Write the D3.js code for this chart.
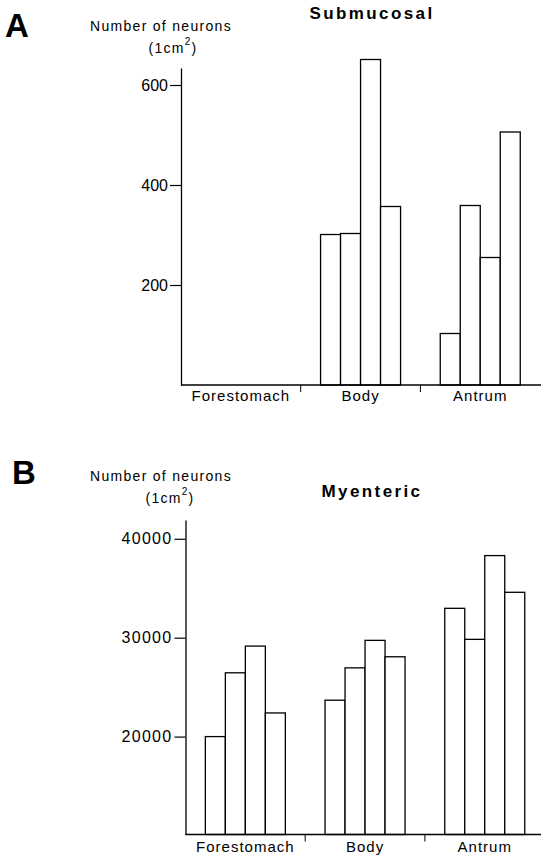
<!DOCTYPE html>
<html>
<head>
<meta charset="utf-8">
<script src="https://cdn.jsdelivr.net/npm/d3@7"></script>
<style>
    body { margin: 0; background: #fff; }
    svg { display: block; font-family: "Liberation Sans", Arial, sans-serif; }
    .lbl { font-size: 15px; letter-spacing: 1px; }
</style>
</head>
<body>
<script>
var categories = ['Forestomach', 'Body', 'Antrum'];

// four animals per region
var submucosal = [
    [0, 0, 0, 0],
    [301, 303, 651, 357],
    [103, 359, 255, 506]
];
var myenteric = [
    [20000, 26450, 29150, 22390],
    [23680, 26950, 29730, 28070],
    [32970, 29830, 38300, 34590]
];
var submucosalTicks = [200, 400, 600];
var myentericTicks = [20000, 30000, 40000];

var width = 541,
    height = 858;

var svg = d3.select('body').append('svg')
    .attr('width', width)
    .attr('height', height);

drawPanel = function drawPanel(opts) {
    var g = svg.append('g');

    var x = d3.scaleBand()
        .domain(categories)
        .range([opts.x0, opts.x0 + 3 * 119.7]);

    var x1 = d3.scaleBand()
        .domain([0, 1, 2, 3])
        .range([x.bandwidth() / 2 - 40, x.bandwidth() / 2 + 40]);

    var y = d3.scaleLinear()
        .domain(opts.domain)
        .range([opts.base, opts.top]);

    // letter + axis title
    g.append('text')
        .attr('x', opts.letterX)
        .attr('y', opts.letterY)
        .style('font-size', '33px')
        .style('font-weight', 'bold')
        .text(opts.letter);

    g.append('text')
        .attr('x', 90)
        .attr('y', opts.nY)
        .style('font-size', '14px')
        .style('letter-spacing', '1.3px')
        .text('Number of neurons');

    var unit = g.append('text')
        .attr('x', opts.unitX)
        .attr('y', opts.nY + 22)
        .attr('text-anchor', 'middle')
        .style('font-size', '14px')
        .style('letter-spacing', '1.3px');
    unit.append('tspan').text('(1cm');
    unit.append('tspan').attr('dy', -8).style('font-size', '10px').text('2');
    unit.append('tspan').attr('dy', 8).text(')');

    g.append('text')
        .attr('x', 372)
        .attr('y', opts.titleY)
        .attr('text-anchor', 'middle')
        .style('font-size', '17px')
        .style('font-weight', 'bold')
        .style('letter-spacing', '2.4px')
        .text(opts.title);

    // y axis
    var yAxis = g.append('g')
        .attr('transform', 'translate(' + opts.x0 + ',0)')
        .call(d3.axisLeft(y)
            .tickValues(opts.ticks)
            .tickFormat(d3.format('d'))
            .tickSize(11)
            .tickSizeOuter(0)
            .tickPadding(2));
    yAxis.select('.domain').attr('stroke-width', 1.3);
    yAxis.selectAll('.tick line').attr('stroke-width', 1.2);
    yAxis.selectAll('.tick text')
        .attr('fill', '#000')
        .style('font-size', '16px')
        .style('letter-spacing', opts.tickSpacing)
        .style('font-family', '"Liberation Sans", Arial, sans-serif');

    // bars
    var groups = g.selectAll('.grp')
        .data(opts.values)
        .enter()
        .append('g')
        .attr('class', 'grp')
        .attr('transform', function (d, i) { return 'translate(' + x(categories[i]) + ',0)'; });

    groups.selectAll('rect')
        .data(function (d) { return d.filter(function (v) { return v > opts.domain[0]; }); })
        .enter()
        .append('rect')
        .attr('x', function (d, i) { return x1(i); })
        .attr('y', function (d) { return y(d); })
        .attr('width', x1.bandwidth())
        .attr('height', function (d) { return y(opts.domain[0]) - y(d); })
        .style('fill', 'white')
        .style('stroke', 'black')
        .style('stroke-width', 1.3);

    // x axis: baseline plus short ticks between regions
    g.append('line')
        .attr('x1', opts.x0)
        .attr('x2', width)
        .attr('y1', y(opts.domain[0]))
        .attr('y2', y(opts.domain[0]))
        .style('stroke', 'black')
        .style('stroke-width', 1.3);

    g.selectAll('.xtick')
        .data(categories.slice(1))
        .enter()
        .append('line')
        .attr('class', 'xtick')
        .attr('x1', function (d) { return x(d); })
        .attr('x2', function (d) { return x(d); })
        .attr('y1', y(opts.domain[0]))
        .attr('y2', y(opts.domain[0]) + 7)
        .style('stroke', 'black')
        .style('stroke-width', 1);

    g.selectAll('.cat')
        .data(categories)
        .enter()
        .append('text')
        .attr('class', 'lbl')
        .attr('x', function (d) { return x(d) + x.bandwidth() / 2; })
        .attr('y', opts.labelY)
        .attr('text-anchor', 'middle')
        .text(function (d) { return d; });
};

drawPanel({
    letter: 'A', letterX: 5, letterY: 37,
    title: 'Submucosal', titleY: 19,
    nY: 31, unitX: 173,
    x0: 181, base: 385, top: 68,
    domain: [0, 634],
    ticks: submucosalTicks, tickSpacing: '0px',
    values: submucosal,
    labelY: 401
});

drawPanel({
    letter: 'B', letterX: 12, letterY: 484,
    title: 'Myenteric', titleY: 497,
    nY: 481, unitX: 170,
    x0: 185.5, base: 834.5, top: 520,
    domain: [10100, 41900],
    ticks: myentericTicks, tickSpacing: '1.3px',
    values: myenteric,
    labelY: 852
});
</script>
</body>
</html>
